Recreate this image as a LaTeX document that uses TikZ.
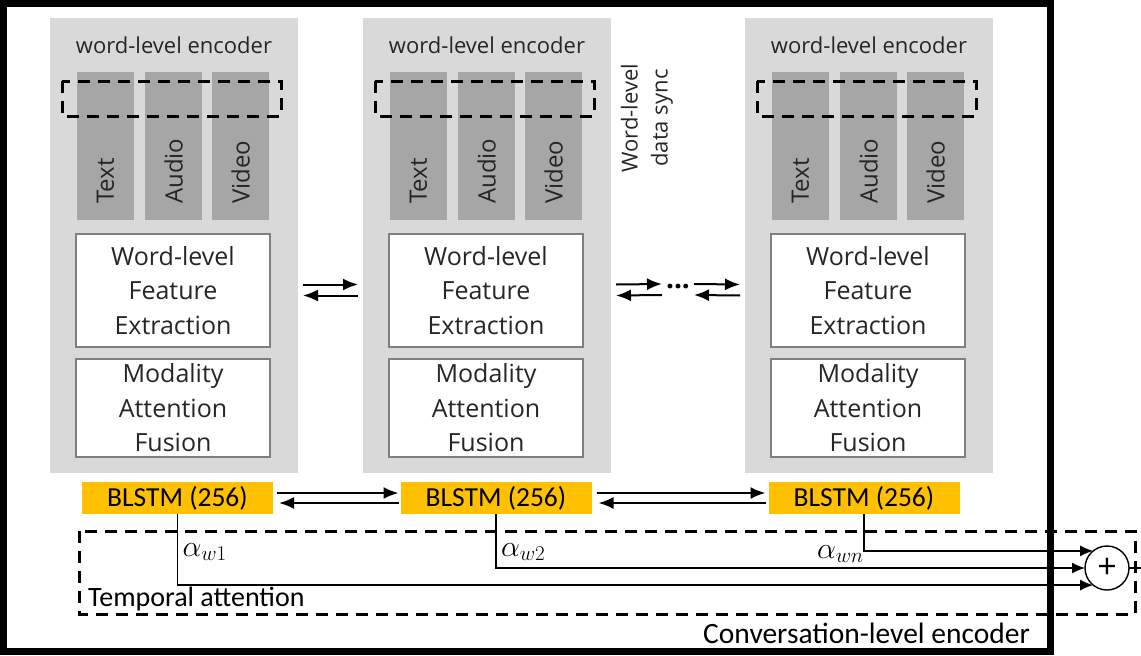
\RequirePackage{fix-cm}
\documentclass[tikz,border=0pt]{standalone}
\usepackage{fontspec}
\newfontfamily\segoe{Open Sans}
\newfontfamily\calib{Carlito}
\usepackage{tikz}
\usetikzlibrary{arrows.meta,positioning}

\definecolor{encgray}{HTML}{D9D9D9}
\definecolor{modgray}{HTML}{A6A6A6}
\definecolor{blstmorange}{HTML}{FFC000}
\definecolor{boxline}{HTML}{7F7F7F}

\begin{document}
\begin{tikzpicture}[x=1pt, y=-1pt,
	encbox/.style={fill=encgray, minimum width=248pt, minimum height=455pt, anchor=north west, inner sep=0pt, outer sep=0pt},
	enctitle/.style={font=\segoe\fontsize{22}{26}\selectfont, text=black!85},
	modbar/.style={fill=modgray, minimum width=57pt, minimum height=148pt, anchor=north west, inner sep=0pt, outer sep=0pt},
	modlabel/.style={rotate=90, anchor=west, inner sep=0pt, font=\segoe\fontsize{24}{28}\selectfont, text=black!85},
	dashbox/.style={line width=3pt, dash pattern=on 12pt off 8pt},
	fbox/.style={draw=boxline, line width=1.5pt, fill=white, minimum width=194pt, anchor=north west, align=center, inner sep=0pt, outer sep=0pt, font=\segoe\fontsize{25}{34.5}\selectfont, text=black!85},
	blstm/.style={fill=blstmorange, minimum width=191pt, minimum height=32pt, inner sep=0pt, outer sep=0pt, font=\calib\fontsize{27.5}{30}\selectfont},
	twoway/.style={line width=2pt, -{Latex[length=15pt,width=12pt]}},
	attline/.style={line width=1.4pt, -{Latex[length=13pt,width=11pt]}},
	sumnode/.style={circle, draw, line width=1.4pt, fill=white, minimum size=44pt, inner sep=0pt, outer sep=0pt, font=\segoe\fontsize{34}{34}\selectfont},
	alphalbl/.style={inner sep=0pt, font=\fontsize{30}{34}\selectfont},
	caption/.style={inner sep=0pt, font=\calib\fontsize{28}{32}\selectfont},
	synclbl/.style={rotate=90, align=center, inner sep=0pt, font=\segoe\fontsize{22}{30}\selectfont, text=black!85}
]
	\useasboundingbox (0,0) rectangle (1141,656);

	% Word-level encoders
	\foreach \i/\x in {1/50, 2/363, 3/745} {
		\node[encbox] (enc\i) at (\x,18) {};
		\node[enctitle] (title\i) at ([yshift=-27pt]enc\i.north) {word-level encoder};
		%Modalities
		\node[modbar] (text\i) at (\x+27,72) {};
		\node[modbar] (audio\i) at (\x+95,72) {};
		\node[modbar] (video\i) at (\x+162,72) {};
		\node[modlabel] at ([yshift=16pt]text\i.south) {Text};
		\node[modlabel] at ([yshift=16pt]audio\i.south) {Audio};
		\node[modlabel] at ([yshift=16pt]video\i.south) {Video};
		\draw[dashbox] (\x+12,81) rectangle (\x+231,116);
		%Feature and fusion
		\node[fbox, minimum height=113pt] (feat\i) at (\x+26,234) {Word-level\\Feature\\Extraction};
		\node[fbox, minimum height=98pt] (fuse\i) at (\x+26,359) {Modality\\Attention\\Fusion};
	}
	\node[synclbl] (sync) at (647,118) {Word-level\\data sync};

	% Links between encoders
	\coordinate (gapL) at (662,290);
	\coordinate (gapR) at (694,290);
	\node[inner sep=0pt, font=\segoe\bfseries\fontsize{28}{28}\selectfont] (dots) at (678,287) {...};
	\draw[twoway] ([shift={(5,39)}]enc1.east) -- ([shift={(-5,39)}]enc2.west);
	\draw[twoway] ([shift={(-5,50)}]enc2.west) -- ([shift={(5,50)}]enc1.east);
	\draw[twoway] ([shift={(5,39)}]enc2.east) -- ([yshift=6pt]gapL);
	\draw[twoway] ([yshift=-5pt]gapL) -- ([shift={(5,50)}]enc2.east);
	\draw[twoway] ([yshift=6pt]gapR) -- ([shift={(-5,39)}]enc3.west);
	\draw[twoway] ([shift={(-5,50)}]enc3.west) -- ([yshift=-5pt]gapR);

	% BLSTM layer
	\node[blstm] (b1) at (177.5,498) {BLSTM (256)};
	\node[blstm] (b2) at (496,498) {BLSTM (256)};
	\node[blstm] (b3) at (864,498) {BLSTM (256)};
	\draw[twoway] ([shift={(4,-5)}]b1.east) -- ([shift={(-2,-5)}]b2.west);
	\draw[twoway] ([shift={(-2,5)}]b2.west) -- ([shift={(6,5)}]b1.east);
	\draw[twoway] ([shift={(5,-5)}]b2.east) -- ([shift={(-3,-5)}]b3.west);
	\draw[twoway] ([shift={(-3,5)}]b3.west) -- ([shift={(7,5)}]b2.east);

	% Temporal attention
	\draw[dashbox] (79,531) rectangle (1135,614);
	\node[sumnode] (sum) at (1107,568) {+};
	\coordinate (sumout) at (1141,568);
	\draw[attline] (b1.south) |- (sum.231);
	\draw[attline] (b2.south) |- (sum.west);
	\draw[attline] (b3.south) |- (sum.129);
	\draw[line width=1.4pt] (sum.east) -- (sumout);
	\node[alphalbl, anchor=west] (aw1) at ([shift={(5,38)}]b1.south) {$\alpha_{w1}$};
	\node[alphalbl, anchor=west] (aw2) at ([shift={(5,38)}]b2.south) {$\alpha_{w2}$};
	\node[alphalbl, anchor=east] (awn) at ([shift={(0,40)}]b3.south) {$\alpha_{wn}$};
	\node[caption, anchor=base west] (tattn) at (88,606) {Temporal attention};

	% Conversation-level encoder
	\node[caption, anchor=base east, font=\calib\fontsize{29.5}{32}\selectfont] (conv) at (1030,643) {Conversation-level encoder};
	\draw[line width=7pt] (3.5,3.5) rectangle (1050,651.5);

\end{tikzpicture}
\end{document}
